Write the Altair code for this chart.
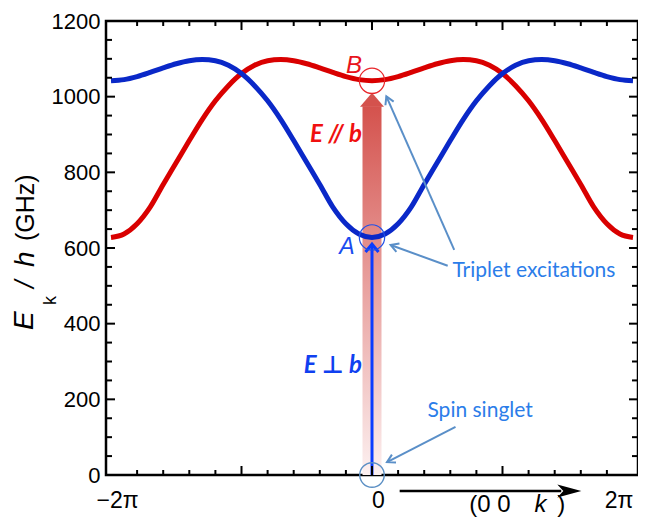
import altair as alt
import pandas as pd

# ---------------- data ----------------
k_pi = [-2.0, -1.9, -1.8, -1.7, -1.6, -1.5, -1.4, -1.3, -1.2, -1.1, -1.0,
        -0.9, -0.8, -0.7, -0.6, -0.5, -0.4, -0.3, -0.2, -0.1, 0.0,
        0.1, 0.2, 0.3, 0.4, 0.5, 0.6, 0.7, 0.8, 0.9, 1.0,
        1.1, 1.2, 1.3, 1.4, 1.5, 1.6, 1.7, 1.8, 1.9, 2.0]
blue_E = [1042, 1045, 1053, 1064, 1076, 1087, 1095, 1098, 1095, 1083, 1061,
          1029, 989, 940, 884, 826, 768, 708, 664, 637, 628,
          637, 664, 708, 768, 826, 884, 940, 989, 1029, 1061,
          1083, 1095, 1098, 1095, 1087, 1076, 1064, 1053, 1045, 1042]
red_E = [628, 637, 664, 708, 768, 826, 884, 940, 989, 1029, 1061,
         1083, 1095, 1098, 1095, 1087, 1076, 1064, 1053, 1045, 1042,
         1045, 1053, 1064, 1076, 1087, 1095, 1098, 1095, 1083, 1061,
         1029, 989, 940, 884, 826, 768, 708, 664, 637, 628]

y_labels = [0, 200, 400, 600, 800, 1000, 1200]
x_labels = [-2, 0, 2]
x_tick_minor = [-1.8, -1.6, -1.4, -1.2, -0.8, -0.6, -0.4, -0.2,
                0.2, 0.4, 0.6, 0.8, 1.2, 1.4, 1.6, 1.8]
x_tick_major = [-1, 0, 1]
y_tick_minor = [50, 100, 150, 250, 300, 350, 450, 500, 550, 650, 700, 750,
                850, 900, 950, 1050, 1100, 1150]
y_tick_major = [200, 400, 600, 800, 1000]

# annotation anchors (k in units of pi, energy in GHz)
E_A = 628          # point A (blue minimum)
E_B = 1042         # point B (red at k = 0)
shaft_top = 975    # top of the red E//b arrow shaft
blue_tip = 610     # tip of the blue E-perp-b arrow
callouts = {
    "tri_A": (0.58, 553, 0.1425, 608),
    "tri_B": (0.63, 595, 0.11, 1001),
    "spin": (0.64, 127, 0.115, 34),
}

W, H = 532, 454

xs = alt.Scale(domain=[-2, 2], nice=False, zero=False)
ys = alt.Scale(domain=[0, 1200], nice=False, zero=False)

x_axis = alt.Axis(
    values=x_labels,
    labelExpr="datum.value < -1 ? '\u22122\u03c0' : (datum.value > 1 ? '2\u03c0' : '0')",
    ticks=False, tickSize=0, domain=False, grid=False, title=None,
    labelFont="Liberation Sans", labelFontSize=23, labelColor="black",
    labelPadding=32, labelBaseline="alphabetic",
    labelOffset={"condition": {"test": "datum.value > 1", "value": 0}, "value": 6},
    labelAlign={"condition": {"test": "datum.value > 1", "value": "right"}, "value": "center"},
    labelFlush=False, labelOverlap=False,
)
y_axis = alt.Axis(
    values=y_labels, format="d", ticks=False, tickSize=0, domain=False, grid=False, title=None,
    labelFont="Liberation Sans", labelFontSize=22, labelColor="black",
    labelPadding=6, labelFlush=False, labelOverlap=False,
)

X = alt.X("k:Q", scale=xs, axis=x_axis)
Y = alt.Y("E:Q", scale=ys, axis=y_axis)


def df(**cols):
    return pd.DataFrame(cols)


# ---------------- red gradient arrow (E // b) ----------------
shaft = alt.Chart(df(k=[0.0], E=[0], E2=[shaft_top])).mark_bar(
    size=19,
    color={"gradient": "linear", "x1": 0, "y1": 0, "x2": 0, "y2": 1,
           "stops": [{"offset": 0, "color": "#d4524d"},
                     {"offset": 0.5, "color": "#e9a3a1"},
                     {"offset": 1, "color": "#fcf0f0"}]},
).encode(x=X, y=Y, y2="E2:Q")

red_head = alt.Chart(df(k=[0.0], E=[E_B])).mark_point(
    shape="M0,1L1,2.17L-1,2.17Z", size=576, filled=True, color="#d4524d", opacity=1, strokeWidth=0
).encode(x=X, y=Y)

# ---------------- dispersion curves ----------------
red_line = alt.Chart(df(k=k_pi, E=red_E)).mark_line(
    color="#d90000", strokeWidth=5, interpolate="monotone").encode(x=X, y=Y)
blue_line = alt.Chart(df(k=k_pi, E=blue_E)).mark_line(
    color="#0a28c8", strokeWidth=5, interpolate="monotone").encode(x=X, y=Y)

# ---------------- blue arrow (E perp b) ----------------
blue_shaft = alt.Chart(df(k=[0.0], E=[0], E2=[blue_tip])).mark_rule(
    color="#0a3cff", strokeWidth=3).encode(x=X, y=Y, y2="E2:Q")
blue_head = alt.Chart(df(k=[0.0], E=[blue_tip])).mark_point(
    shape="M-1,1.2L0,0L1,1.2", size=169, filled=False, color="#0a3cff", strokeWidth=3, opacity=1
).encode(x=X, y=Y)

# ---------------- circles ----------------
circ_B = alt.Chart(df(k=[0.0], E=[E_B])).mark_point(
    shape="circle", size=640, filled=False, color="#e8262a", strokeWidth=1.2, opacity=1).encode(x=X, y=Y)
circ_A = alt.Chart(df(k=[0.0], E=[E_A])).mark_point(
    shape="circle", size=640, filled=False, color="#2050e8", strokeWidth=1.2, opacity=1).encode(x=X, y=Y)
circ_0 = alt.Chart(df(k=[0.0], E=[0])).mark_point(
    shape="circle", size=600, filled=False, color="#5b8fc4", strokeWidth=1.4, opacity=1).encode(x=X, y=Y)

# ---------------- labels A, B and polarisations ----------------
lab_B = alt.Chart(df(k=[0.0], E=[E_B], t=["B"])).mark_text(
    font="Liberation Sans", fontStyle="italic", fontSize=24, color="#e8141c",
    align="center", baseline="alphabetic", dx=-18, dy=-8).encode(x=X, y=Y, text="t:N")
lab_A = alt.Chart(df(k=[0.0], E=[E_A], t=["A"])).mark_text(
    font="Liberation Sans", fontStyle="italic", fontSize=23, color="#1a4cf0",
    align="center", baseline="alphabetic", dx=-25, dy=17).encode(x=X, y=Y, text="t:N")
lab_par = alt.Chart(df(k=[0.0], E=[881], t=["E // b"])).mark_text(
    font="Lato, DejaVu Sans", fontStyle="italic", fontWeight="bold", fontSize=24, color="#f01010",
    align="right", baseline="alphabetic", dx=-10).encode(x=X, y=Y, text="t:N")
lab_perp = alt.Chart(df(k=[0.0], E=[270], t=["E \u22a5 b"])).mark_text(
    font="Lato, DejaVu Sans", fontStyle="italic", fontWeight="bold", fontSize=24, color="#1040f0",
    align="right", baseline="alphabetic", dx=-10).encode(x=X, y=Y, text="t:N")

# ---------------- callouts ----------------
lab_tri = alt.Chart(df(k=[0.617], E=[523], t=["Triplet excitations"])).mark_text(
    font="Lato", fontSize=21, color="#2b7de9", align="left", baseline="alphabetic"
).encode(x=X, y=Y, text="t:N")
lab_spin = alt.Chart(df(k=[0.425], E=[152], t=["Spin singlet"])).mark_text(
    font="Lato", fontSize=21, color="#2b7de9", align="left", baseline="alphabetic"
).encode(x=X, y=Y, text="t:N")

call_rows = list(callouts.values())
call_df = df(k=[r[0] for r in call_rows], E=[r[1] for r in call_rows],
             k2=[r[2] for r in call_rows], E2=[r[3] for r in call_rows])
call_lines = alt.Chart(call_df).mark_rule(color="#5a8fc8", strokeWidth=2).encode(
    x=X, y=Y, x2="k2:Q", y2="E2:Q")


def chevron(name, angle):
    r = callouts[name]
    return alt.Chart(df(k=[r[2]], E=[r[3]])).mark_point(
        shape="M-0.75,1.3L0,0L0.75,1.3", size=144, filled=False, color="#5a8fc8",
        strokeWidth=2, opacity=1, angle=angle).encode(x=X, y=Y)


heads = [chevron("tri_A", 290), chevron("tri_B", 336), chevron("spin", 243)]

# ---------------- inward ticks on all four sides ----------------
ticks = []
for vals, ln in ((x_tick_minor, 5), (x_tick_major, 9)):
    d = df(k=vals)
    ticks.append(alt.Chart(d).mark_rule(color="black", strokeWidth=2).encode(
        x=X, y=alt.value(H), y2=alt.value(H - ln)))
    ticks.append(alt.Chart(d).mark_rule(color="black", strokeWidth=2).encode(
        x=X, y=alt.value(0), y2=alt.value(ln)))
for vals, ln in ((y_tick_minor, 6), (y_tick_major, 9)):
    d = df(E=vals)
    ticks.append(alt.Chart(d).mark_rule(color="black", strokeWidth=2).encode(
        y=Y, x=alt.value(0), x2=alt.value(ln)))
    ticks.append(alt.Chart(d).mark_rule(color="black", strokeWidth=2).encode(
        y=Y, x=alt.value(W), x2=alt.value(W - ln)))

# ---------------- bottom direction arrow and (0 0 k) ----------------
dir_line = alt.Chart(df(k=[0.212], k2=[1.45])).mark_rule(color="black", strokeWidth=2.5).encode(
    x=X, x2="k2:Q", y=alt.value(470))
dir_head = alt.Chart(df(k=[1.604])).mark_point(
    shape="M0,0L-2,-0.55L-1.5,0L-2,0.55Z", size=576, filled=True, color="black", opacity=1,
    strokeWidth=0).encode(x=X, y=alt.value(470))
t_00 = alt.Chart(df(k=[0.745], t=["(0  0"])).mark_text(
    font="Liberation Sans", fontSize=24, color="black", align="left", baseline="alphabetic"
).encode(x=X, y=alt.value(491), text="t:N")
t_k = alt.Chart(df(k=[1.245], t=["k"])).mark_text(
    font="Liberation Sans", fontStyle="italic", fontSize=24, color="black", align="left",
    baseline="alphabetic").encode(x=X, y=alt.value(491), text="t:N")
t_close = alt.Chart(df(k=[1.42], t=[")"])).mark_text(
    font="Liberation Sans", fontSize=24, color="black", align="left", baseline="alphabetic"
).encode(x=X, y=alt.value(491), text="t:N")

# ---------------- y-axis title  E_k / h (GHz) ----------------
def ytitle(txt, xpx, ypx, size, italic=False):
    return alt.Chart(df(t=[txt])).mark_text(
        font="Liberation Sans", fontSize=size, fontStyle="italic" if italic else "normal",
        color="black", angle=270, align="left", baseline="alphabetic"
    ).encode(x=alt.value(xpx), y=alt.value(ypx), text="t:N")


title_parts = [
    ytitle("E", -73, 309, 28, True),
    ytitle("k", -50, 284, 18),
    ytitle("/", -72, 267, 27, True),
    ytitle("h", -72, 246, 28, True),
    ytitle("(GHz)", -72, 220, 25),
]

layers = ([shaft, red_head, red_line, blue_line, blue_shaft, blue_head,
           circ_B, circ_A, circ_0, lab_B, lab_A, lab_par, lab_perp,
           lab_tri, lab_spin, call_lines] + heads + ticks +
          [dir_line, dir_head, t_00, t_k, t_close] + title_parts)

chart = alt.layer(*layers).properties(
    width=W, height=H,
    autosize=alt.AutoSizeParams(type="none"),
    padding={"left": 98, "top": 13, "right": 0, "bottom": 46},
    background="white",
).configure_view(stroke="black", strokeWidth=2.5)

chart.save("out.html", embed_options={"renderer": "svg", "actions": False})
